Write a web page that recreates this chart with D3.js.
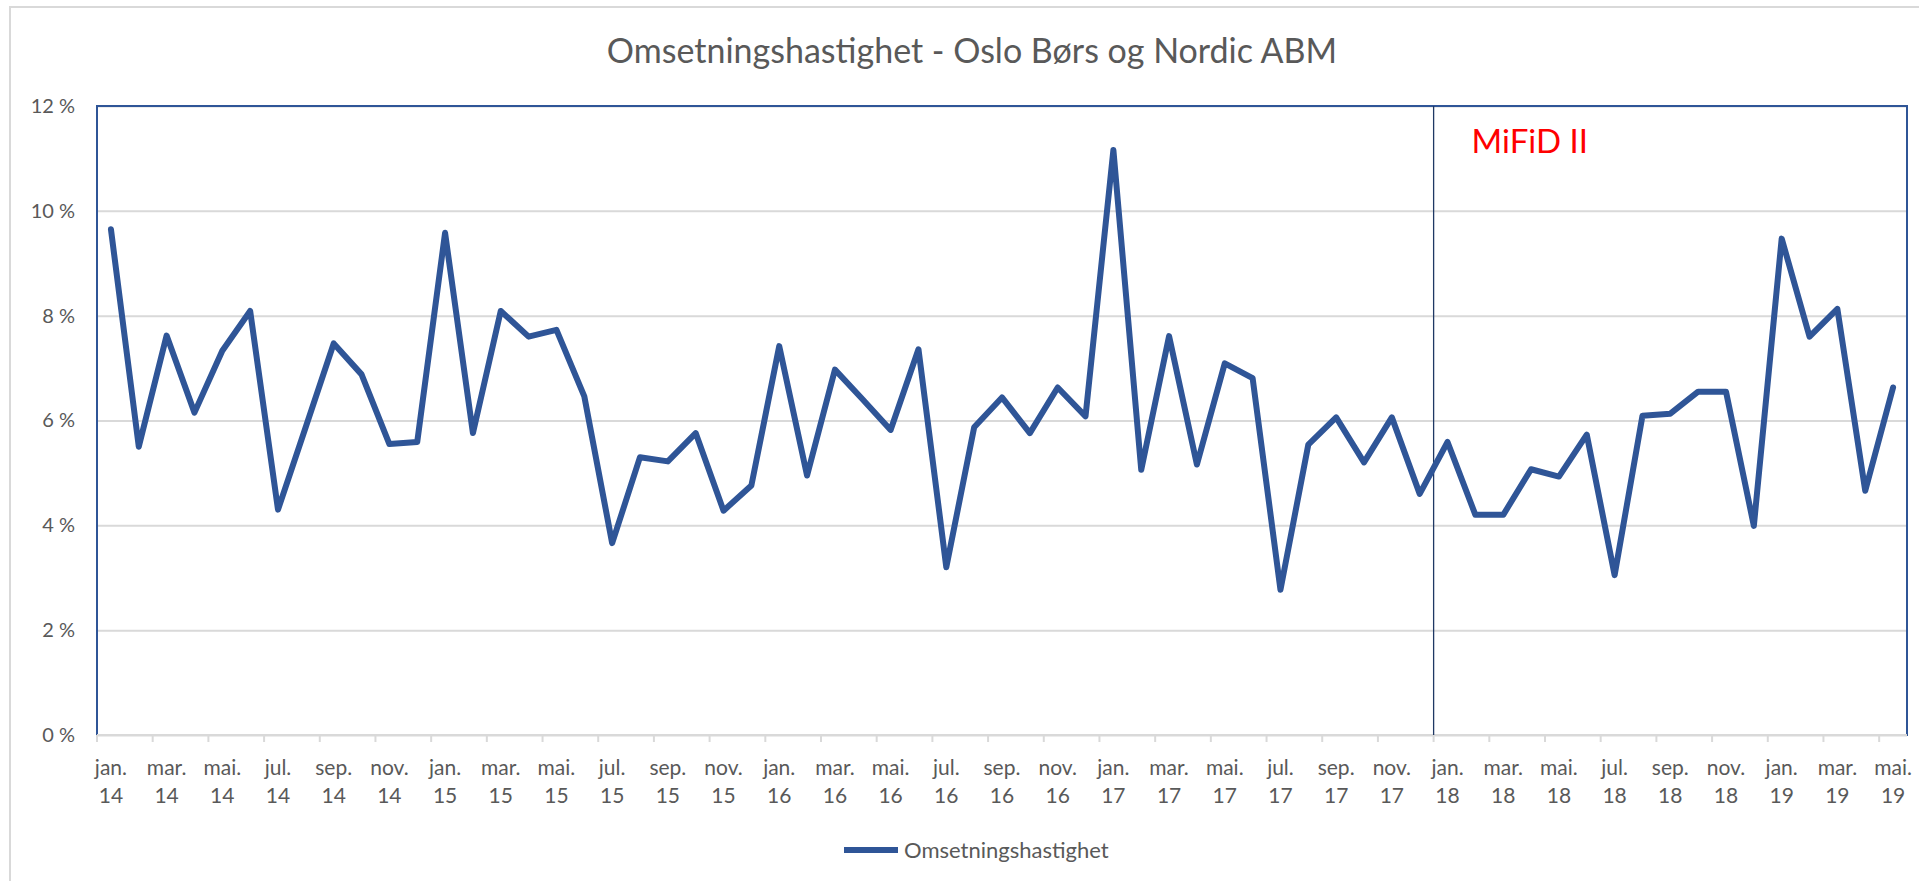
<!DOCTYPE html>
<html>
<head>
<meta charset="utf-8">
<script src="https://cdn.jsdelivr.net/npm/d3@7/dist/d3.min.js"></script>
<style>
  body { margin: 0; background: #ffffff; }
  figure { margin: 0; }
  svg text { font-family: Lato, 'Open Sans', sans-serif; fill: #595959; }
</style>
</head>
<body>
<figure id="chart"></figure>
<script>
// Monthly categories, jan. 14 - mai. 19
const categories = [
  'jan. 14', 'feb. 14', 'mar. 14', 'apr. 14', 'mai. 14', 'jun. 14', 'jul. 14', 'aug. 14', 'sep. 14', 'okt. 14', 'nov. 14', 'des. 14',
  'jan. 15', 'feb. 15', 'mar. 15', 'apr. 15', 'mai. 15', 'jun. 15', 'jul. 15', 'aug. 15', 'sep. 15', 'okt. 15', 'nov. 15', 'des. 15',
  'jan. 16', 'feb. 16', 'mar. 16', 'apr. 16', 'mai. 16', 'jun. 16', 'jul. 16', 'aug. 16', 'sep. 16', 'okt. 16', 'nov. 16', 'des. 16',
  'jan. 17', 'feb. 17', 'mar. 17', 'apr. 17', 'mai. 17', 'jun. 17', 'jul. 17', 'aug. 17', 'sep. 17', 'okt. 17', 'nov. 17', 'des. 17',
  'jan. 18', 'feb. 18', 'mar. 18', 'apr. 18', 'mai. 18', 'jun. 18', 'jul. 18', 'aug. 18', 'sep. 18', 'okt. 18', 'nov. 18', 'des. 18',
  'jan. 19', 'feb. 19', 'mar. 19', 'apr. 19', 'mai. 19'
];

// Omsetningshastighet in percent
const omsetningshastighet = [
  9.65, 5.50, 7.62, 6.15, 7.33, 8.09, 4.30, 5.88, 7.47, 6.88, 5.55, 5.59,
  9.58, 5.76, 8.09, 7.60, 7.73, 6.46, 3.66, 5.30, 5.22, 5.76, 4.28, 4.76,
  7.42, 4.95, 6.97, 6.40, 5.82, 7.36, 3.20, 5.87, 6.44, 5.76, 6.63, 6.08,
  11.16, 5.06, 7.61, 5.16, 7.09, 6.81, 2.77, 5.54, 6.06, 5.20, 6.06, 4.60,
  5.59, 4.20, 4.20, 5.07, 4.93, 5.73, 3.05, 6.09, 6.13, 6.55, 6.55, 3.99,
  9.47, 7.60, 8.13, 4.66, 6.63
];

const yTicks = [0, 2, 4, 6, 8, 10, 12];
const chartTitle = 'Omsetningshastighet - Oslo Børs og Nordic ABM';
const seriesName = 'Omsetningshastighet';
const mifidLabel = 'MiFiD II';
const mifidStart = 'jan. 18';

const width = 1919;
const height = 881;
const margin = { top: 106, right: 12, bottom: 146, left: 97 };
const plotW = width - margin.left - margin.right;
const plotH = height - margin.top - margin.bottom;

const lineColor = '#2f5597';
const gridColor = '#d9d9d9';

const svg = d3.select('figure#chart')
  .append('svg')
  .attr('width', width)
  .attr('height', height);

svg.append('rect')
  .attr('width', width)
  .attr('height', height)
  .attr('fill', '#ffffff');

// outer chart frame (right and bottom edges fall outside the picture)
svg.append('rect')
  .attr('x', 10)
  .attr('y', 7)
  .attr('width', width + 20)
  .attr('height', height + 20)
  .attr('fill', 'none')
  .attr('stroke', gridColor)
  .attr('stroke-width', 2);

// title
svg.append('text')
  .attr('x', 972)
  .attr('y', 63)
  .attr('text-anchor', 'middle')
  .style('font-size', '34px')
  .text(chartTitle);

const x = d3.scaleBand()
  .domain(categories)
  .range([margin.left, margin.left + plotW])
  .padding(0);

const y = d3.scaleLinear()
  .domain([0, 12])
  .range([margin.top + plotH, margin.top]);

const bw = x.bandwidth();

// horizontal gridlines
svg.append('g')
  .attr('transform', 'translate(' + margin.left + ',0)')
  .call(d3.axisLeft(y).tickValues(yTicks).tickSize(-plotW).tickFormat(''))
  .call(g => g.select('.domain').remove())
  .selectAll('line')
  .attr('stroke', gridColor)
  .attr('stroke-width', 2);

// y labels
svg.append('g')
  .attr('transform', 'translate(' + margin.left + ',0)')
  .call(d3.axisLeft(y).tickValues(yTicks).tickSize(0).tickPadding(22).tickFormat(d => d + ' %'))
  .call(g => g.select('.domain').remove())
  .selectAll('text')
  .style('font-size', '20px')
  .style('font-family', 'Lato, sans-serif')
  .attr('fill', '#595959');

// plot area border
svg.append('rect')
  .attr('x', margin.left)
  .attr('y', margin.top)
  .attr('width', plotW)
  .attr('height', plotH)
  .attr('fill', 'none')
  .attr('stroke', lineColor)
  .attr('stroke-width', 2);

// x axis: line, ticks between every second category, two-line labels
const xAxis = svg.append('g')
  .attr('transform', 'translate(0,' + (margin.top + plotH) + ')');

xAxis.append('line')
  .attr('x1', margin.left)
  .attr('x2', margin.left + plotW)
  .attr('stroke', gridColor)
  .attr('stroke-width', 2);

const labelled = categories.filter((c, i) => i % 2 === 0);

xAxis.selectAll('.tick')
  .data(labelled)
  .enter()
  .append('line')
  .attr('x1', d => x(d))
  .attr('x2', d => x(d))
  .attr('y1', 0)
  .attr('y2', 7)
  .attr('stroke', gridColor)
  .attr('stroke-width', 2);

const labels = xAxis.selectAll('.label')
  .data(labelled)
  .enter()
  .append('text')
  .attr('text-anchor', 'middle')
  .style('font-size', '21px');

labels.append('tspan')
  .attr('x', d => x(d) + bw / 2)
  .attr('y', 40)
  .text(d => d.split(' ')[0]);

labels.append('tspan')
  .attr('x', d => x(d) + bw / 2)
  .attr('y', 68)
  .text(d => d.split(' ')[1]);

// MiFiD II marker
svg.append('line')
  .attr('x1', x(mifidStart))
  .attr('x2', x(mifidStart))
  .attr('y1', margin.top)
  .attr('y2', margin.top + plotH)
  .attr('stroke', '#1f3864')
  .attr('stroke-width', 1.3);

svg.append('text')
  .attr('x', x(mifidStart) + 38)
  .attr('y', 153)
  .style('font-size', '33px')
  .style('fill', '#ff0000')
  .text(mifidLabel);

// the series
const line = d3.line()
  .x((d, i) => x(categories[i]) + bw / 2)
  .y(d => y(d));

svg.append('path')
  .datum(omsetningshastighet)
  .attr('d', line)
  .attr('fill', 'none')
  .attr('stroke', lineColor)
  .attr('stroke-width', 6)
  .attr('stroke-linejoin', 'round')
  .attr('stroke-linecap', 'round');

// legend
const legend = svg.append('g')
  .attr('transform', 'translate(844,850)');

legend.append('line')
  .attr('x1', 0)
  .attr('x2', 54)
  .attr('stroke', lineColor)
  .attr('stroke-width', 6);

legend.append('text')
  .attr('x', 60)
  .attr('y', 8)
  .style('font-size', '22px')
  .text(seriesName);
</script>
</body>
</html>
